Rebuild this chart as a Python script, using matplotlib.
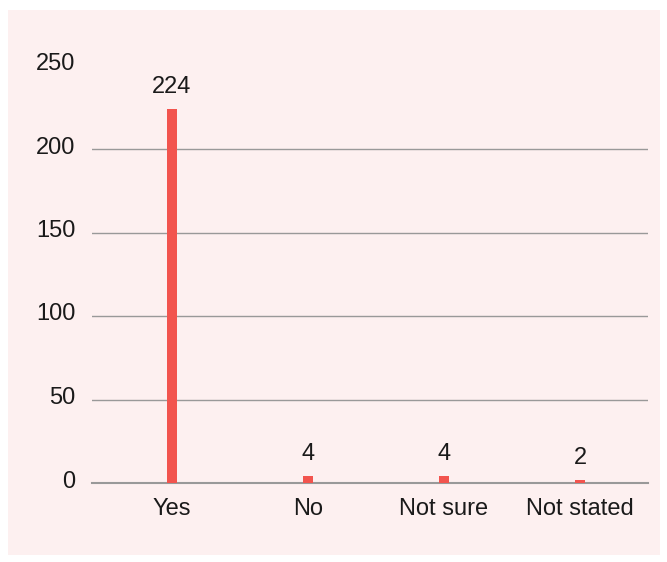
import matplotlib.pyplot as plt
from matplotlib.patches import Rectangle
from matplotlib.transforms import ScaledTranslation

categories = ['Yes', 'No', 'Not sure', 'Not stated']
counts = [224, 4, 4, 2]
yticks = [0, 50, 100, 150, 200, 250]

plt.rcParams['font.family'] = ['Liberation Sans', 'DejaVu Sans']

fig = plt.figure(figsize=(6.67, 5.62), dpi=100)
fig.patch.set_facecolor('white')
fig.patches.append(Rectangle((8 / 667, 7 / 562), 652 / 667, 545 / 562,
                             transform=fig.transFigure, facecolor='#fdf0f0',
                             edgecolor='none', zorder=-10))

ax = fig.add_axes([92 / 667, 79 / 562, 556 / 667, 417.5 / 562])
ax.set_facecolor('none')

x = range(len(categories))
ax.bar(x, counts, width=0.074, color='#f2544e', zorder=3)
for xi, v in zip(x, counts):
    ax.annotate(str(v), (xi, v), xytext=(0, 8), textcoords='offset points',
                ha='center', va='bottom', fontsize=17, color='#1a1a1a')

ax.set_xlim(-0.588, 3.5)
ax.set_ylim(0, 250)
ax.set_xticks(list(x))
ax.set_xticklabels(categories)
ax.set_yticks(yticks)

for y in yticks[1:-1]:
    ax.axhline(y, color='#999999', lw=1, zorder=1)

for s in ['top', 'right', 'left']:
    ax.spines[s].set_visible(False)
ax.spines['bottom'].set_color('#999999')
ax.spines['bottom'].set_linewidth(1.5)

ax.tick_params(axis='both', length=0, labelsize=17, colors='#1a1a1a')
ax.tick_params(axis='y', pad=12)
ax.tick_params(axis='x', pad=11)

# nudge the y labels a little above their gridlines
shift = ScaledTranslation(0, 4 / 100, fig.dpi_scale_trans)
for lab in ax.get_yticklabels():
    lab.set_transform(lab.get_transform() + shift)

fig.savefig('out.png', dpi=100)
